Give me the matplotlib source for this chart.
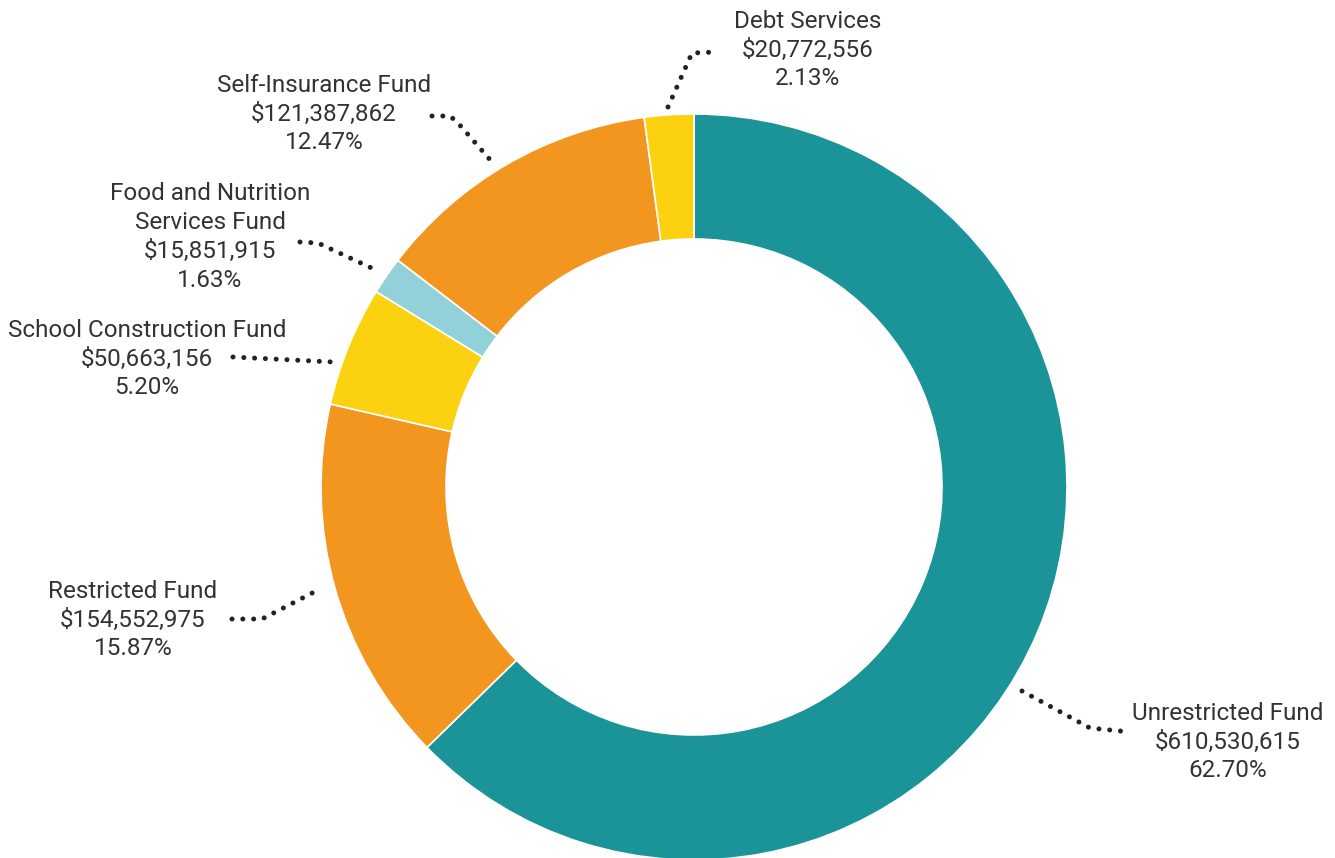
import matplotlib
matplotlib.use("Agg")
import matplotlib.pyplot as plt

labels = ["Unrestricted Fund", "Restricted Fund", "School Construction Fund",
          "Food and Nutrition\nServices Fund", "Self-Insurance Fund", "Debt Services"]
amounts = [610530615, 154552975, 50663156, 15851915, 121387862, 20772556]
percents = ["62.70%", "15.87%", "5.20%", "1.63%", "12.47%", "2.13%"]
colors = ["#1A9399", "#F29620", "#FCD10F", "#92D1DA", "#F29620", "#FCD10F"]

W, H = 1335, 858
plt.rcParams['font.family'] = ['Roboto', 'DejaVu Sans']
fig = plt.figure(figsize=(W / 100, H / 100), dpi=100)
ax = fig.add_axes([0, 0, 1, 1])

cx, cy = 694, H - 487
R, r = 373, 248
ax.pie(amounts, colors=colors, startangle=90, counterclock=False,
       center=(cx, cy), radius=R,
       wedgeprops=dict(width=R - r, edgecolor="white", linewidth=1.2))
ax.set_xlim(0, W)
ax.set_ylim(0, H)
ax.set_aspect("auto")
ax.axis("off")

# label placement (pixel coords, y from top)
text_pos = [(1228, 742), (133, 620), (147, 359), (210, 237), (324, 114), (808, 50)]
leaders = [
    [(1022, 691), (1090, 728), (1130, 732)],
    [(232, 619), (262, 619), (320, 589)],
    [(233, 357), (333, 362)],
    [(300, 242), (318, 243), (378, 271)],
    [(432, 116), (450, 116), (458, 123), (492, 162)],
    [(668, 107), (692, 53), (717, 52)],
]

for lab, amt, pct, (tx, ty), pts in zip(labels, amounts, percents, text_pos, leaders):
    txt = f"{lab}\n${amt:,}\n{pct}"
    ax.text(tx, H - ty, txt, ha="center", va="center", fontsize=17.5,
            color="#333333", linespacing=1.32)
    xs = [p[0] for p in pts]
    ys = [H - p[1] for p in pts]
    ax.plot(xs, ys, color="#222222", linewidth=3.6, linestyle=(0, (0.01, 2.15)),
            dash_capstyle="round", solid_capstyle="round")

fig.savefig("out.png", dpi=100)
